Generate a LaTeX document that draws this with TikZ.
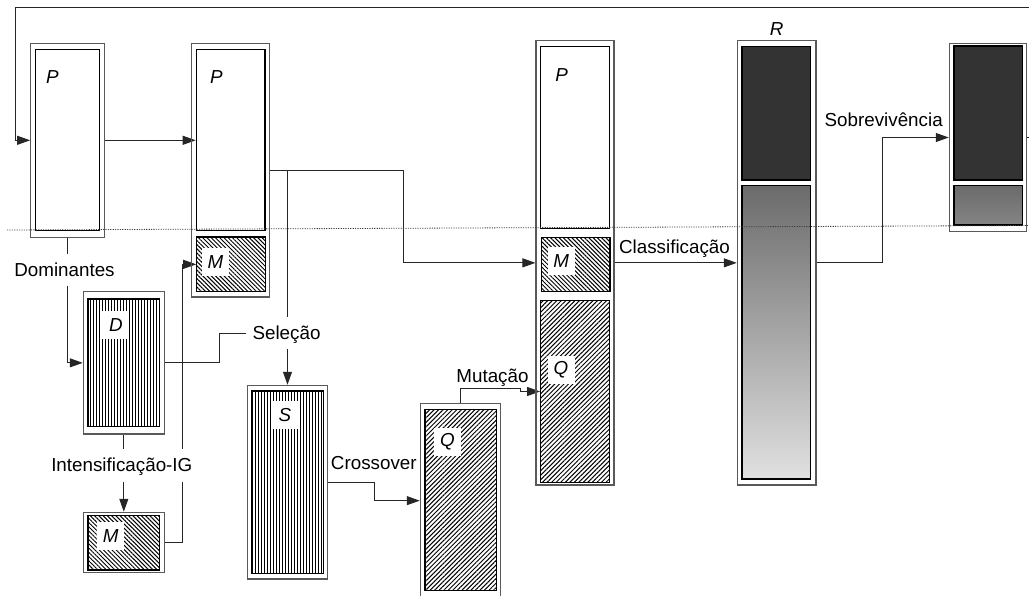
\documentclass[tikz,border=0pt]{standalone}
\usepackage{fontspec}
\setmainfont{Liberation Sans}
\usetikzlibrary{arrows.meta,patterns.meta,fit,calc}
\pgfdeclarelayer{bg}
\pgfsetlayers{bg,main}

\tikzset{
  outerbox/.style={draw=black!65, line width=1.1pt, inner sep=0pt},
  innerbox/.style={draw=black, line width=1.2pt, inner sep=0pt},
  vhatch/.style={innerbox, pattern={Lines[angle=90,distance=3pt,line width=1pt]}},
  mhatch/.style={innerbox, pattern={Lines[angle=-45,distance=3pt,line width=1pt]}},
  qhatch/.style={innerbox, pattern={Lines[angle=45,distance=3.2pt,line width=1pt]}},
  darkbox/.style={innerbox, fill=black!80},
  conn/.style={draw=black!85, line width=0.9pt},
  arr/.style={conn, -{Triangle[length=13pt,width=9pt]}},
  tag/.style={font=\fontsize{18.8}{22}\selectfont\itshape, fill=white,
              minimum width=27pt, minimum height=28pt, inner sep=0pt},
  lbl/.style={font=\fontsize{18.8}{22}\selectfont, anchor=base,
              inner xsep=6pt, inner ysep=6pt, text height=16.5pt, text depth=4pt},
  lblw/.style={lbl, fill=white},
  divider/.style={draw=black!75, line width=0.8pt, dash pattern=on 1.2pt off 1.2pt},
}

\begin{document}
\begin{tikzpicture}[x=1pt,y=-1pt]
\useasboundingbox (0,0) rectangle (1029,595);
\clip (0,0) rectangle (1029,595);

% population P
\node[outerbox, fit={(30.7,43.3) (104.3,237.3)}] (P1o) {};
\node[innerbox, fit={(35.3,49.3) (99.7,230.7)}] (P1i) {};
\node[tag] (tP1) at (52.5,77) {P};

% population P with the intensified set M
\node[outerbox, fit={(191.7,43.3) (269.3,297)}] (P2o) {};
\node[innerbox, fit={(196.3,49.3) (265,230.7)}] (P2i) {};
\node[mhatch, fit={(196.7,237) (265.7,291.7)}] (M2i) {};
\node[tag] (tP2) at (216.5,77) {P};
\node[tag] (tM2) at (215.5,262.3) {M};

% dominant set D
\node[outerbox, fit={(83.3,291.7) (164.3,434)}] (Do) {};
\node[vhatch, fit={(88,299) (159.7,426.7)}] (Di) {};
\node[tag] (tD) at (115.8,325) {D};

% intensified set M
\node[outerbox, fit={(83.3,512.3) (164.3,572.7)}] (Mo) {};
\node[mhatch, fit={(88,515.7) (159.7,570)}] (Mi) {};
\node[tag] (tM) at (110.7,535.8) {M};

% selected set S
\node[outerbox, fit={(247.3,385.3) (327.7,579)}] (So) {};
\node[vhatch, fit={(252,391) (323.3,573.3)}] (Si) {};
\node[tag] (tS) at (285,414.7) {S};

% offspring Q
\node[outerbox, fit={(420.3,403.3) (500.3,598)}] (Qo) {};
\node[qhatch, fit={(425,409.3) (496.3,590.7)}] (Qi) {};
\node[tag] (tQ) at (447.5,442.2) {Q};

% union P + M + Q
\node[outerbox, fit={(536,40.7) (614,485)}] (C3o) {};
\node[innerbox, fit={(540.7,46.7) (609.3,228.3)}] (P3i) {};
\node[mhatch, fit={(541.3,237.3) (610,291.7)}] (M3i) {};
\node[qhatch, fit={(540.7,300.7) (609.3,482.3)}] (Q3i) {};
\node[tag] (tP3) at (561.7,74.7) {P};
\node[tag] (tM3) at (561.3,260.8) {M};
\node[tag] (tQ3) at (561,369.7) {Q};

% ranked set R
\node[outerbox, fit={(737.3,40.7) (816,485)}] (Ro) {};
\node[darkbox, fit={(742,46.7) (810.7,180)}] (R1) {};
\node[innerbox, top color=black!58, bottom color=black!12, fit={(742,185.3) (810.7,479)}] (R2) {};
\node[anchor=base, inner sep=0pt, font=\fontsize{18.8}{22}\selectfont\itshape] (tR) at (776.7,35) {R};

% next population
\node[outerbox, fit={(949.3,43.3) (1026.7,231.7)}] (Fo) {};
\node[darkbox, fit={(954,46) (1022.3,180)}] (F1) {};
\node[innerbox, top color=black!58, bottom color=black!48, fit={(954,185.7) (1022.3,225)}] (F2) {};

% operator labels
\node[lblw] (dom) at (64.5,276) {Dominantes};
\node[lblw] (sel) at (286.5,339.3) {Seleção};
\node[lblw] (int) at (121.8,471.7) {Intensificação-IG};
\node[lbl] (cro) at (373.8,469) {Crossover};
\node[lbl] (mut) at (492.5,382.7) {Mutação};
\node[lbl] (cla) at (674.5,253) {Classificação};
\node[lbl] (sob) at (883.7,126.7) {Sobrevivência};

\coordinate (loop) at (15,7);

\begin{pgfonlayer}{bg}
  \draw[arr] (Fo.east) -- ++(20,0) |- (loop) |- (P1o.west);
  \draw[arr] (P1o.east) -- (P1o.east -| P2i.west);
  \draw[arr] (P1o.south) |- (Do.west);
  \draw[arr] (Do.south) -- (Mo.north);
  \draw[arr] (Mo.east) -- ++(17.4,0) |- (M2i.west);
  \draw[conn] (Do.east) -- ++(55,0) |- (sel.west);
  \draw[arr] (P2o.east) -- ++(133.7,0) |- (C3o.west);
  \draw[arr] (So.north |- P2o.east) -- (So.north);
  \draw[arr] (So.east) -- ++(46.3,0) |- (Qo.west);
  \draw[arr] (Qo.north) |- ++(60.4,-14.8) |- (Q3i.west);
  \draw[arr] (C3o.east) -- (Ro.west);
  \draw[arr] (Ro.east) -- ++(66.3,0) |- (Fo.west);
\end{pgfonlayer}

% dotted divider
\draw[divider] (7,230) -- (1029,225.5);
\end{tikzpicture}
\end{document}
